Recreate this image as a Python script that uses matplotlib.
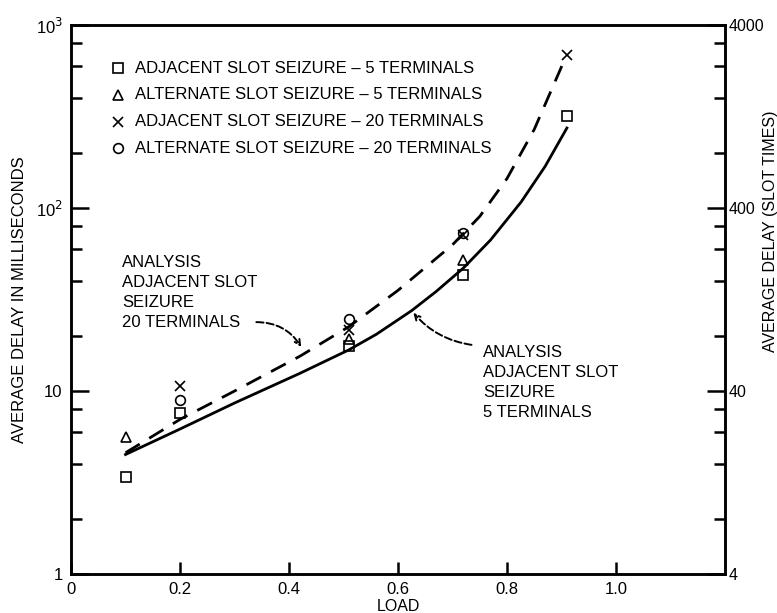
import matplotlib.pyplot as plt
from matplotlib.ticker import FixedLocator, NullFormatter
import numpy as np

plt.rcParams['font.family'] = ['Liberation Sans', 'DejaVu Sans']

# simulation points (load, delay in ms)
sq5_x = [0.1, 0.2, 0.51, 0.72, 0.91]
sq5_y = [3.4, 7.6, 17.6, 43, 320]
tri5_x = [0.1, 0.51, 0.72]
tri5_y = [5.6, 19.2, 52]
x20_x = [0.2, 0.51, 0.72, 0.91]
x20_y = [10.7, 21.5, 71, 690]
o20_x = [0.2, 0.51, 0.72]
o20_y = [8.9, 24.7, 73]

# analysis curves
an20_x = [0.1, 0.2, 0.3, 0.42, 0.51, 0.6, 0.7, 0.75, 0.8, 0.85, 0.905]
an20_y = [4.6, 7.0, 10.0, 15.5, 22.5, 35.5, 63, 90, 145, 269, 640]
an5_x = [0.1, 0.2, 0.3, 0.42, 0.51, 0.56, 0.625, 0.67, 0.72, 0.77, 0.826, 0.87, 0.91]
an5_y = [4.5, 6.2, 8.6, 12.5, 16.8, 20.4, 27.5, 35, 47, 67, 108, 169, 274]

legend_rows = [('s', 'ADJACENT SLOT SEIZURE \u2013 5 TERMINALS'),
               ('^', 'ALTERNATE SLOT SEIZURE \u2013 5 TERMINALS'),
               ('x', 'ADJACENT SLOT SEIZURE \u2013 20 TERMINALS'),
               ('o', 'ALTERNATE SLOT SEIZURE \u2013 20 TERMINALS')]

fig = plt.figure(figsize=(7.77, 6.13), dpi=100)
ax = fig.add_axes([0.0914, 0.0636, 0.8416, 0.8954])

ax.plot(an5_x, an5_y, '-', color='black', lw=2.0)
ax.plot(an20_x, an20_y, '--', color='black', lw=2.0, dashes=(6, 4))

mk = dict(color='black', mfc='none', linestyle='none', mew=1.2, ms=7)
ax.plot(sq5_x, sq5_y, marker='s', **mk)
ax.plot(tri5_x, tri5_y, marker='^', **mk)
ax.plot(x20_x, x20_y, marker='x', **mk)
ax.plot(o20_x, o20_y, marker='o', **mk)

ax.set_yscale('log')
ax.set_xlim(0, 1.2)
ax.set_ylim(1, 1000)

ax.set_xticks([0, 0.2, 0.4, 0.6, 0.8, 1.0])
ax.set_xticklabels(['0', '0.2', '0.4', '0.6', '0.8', '1.0'])
ax.yaxis.set_major_locator(FixedLocator([1, 10, 100, 1000]))
ax.set_yticklabels(['1', '10', '10$^2$', '10$^3$'])
minor = [m * 10 ** k for k in range(3) for m in (2, 4, 6, 8)]
ax.yaxis.set_minor_locator(FixedLocator(minor))
ax.yaxis.set_minor_formatter(NullFormatter())

ax.tick_params(axis='both', which='both', direction='in', labelsize=12, width=1.8)
ax.tick_params(axis='y', which='major', length=13, pad=6)
ax.tick_params(axis='y', which='minor', length=8)
ax.tick_params(axis='x', which='major', length=9, pad=6, top=False)
ax.tick_params(axis='x', which='minor', bottom=False)
for s in ax.spines.values():
    s.set_linewidth(1.8)

ax.set_xlabel('LOAD', fontsize=11.5, labelpad=1)
ax.set_ylabel('AVERAGE DELAY IN MILLISECONDS', fontsize=12, labelpad=6)

ax2 = ax.twinx()
ax2.set_yscale('log')
ax2.set_ylim(4, 4000)
ax2.yaxis.set_major_locator(FixedLocator([4, 40, 400, 4000]))
ax2.set_yticklabels(['4', '40', '400', '4000'])
ax2.yaxis.set_minor_locator(FixedLocator([4 * v for v in minor]))
ax2.yaxis.set_minor_formatter(NullFormatter())
ax2.tick_params(axis='y', which='both', direction='in', labelsize=11.5, width=1.8)
ax2.tick_params(axis='y', which='major', length=13, pad=2.5)
ax2.tick_params(axis='y', which='minor', length=8)
ax2.set_ylabel('AVERAGE DELAY (SLOT TIMES)', fontsize=11.5)
ax2.yaxis.set_label_coords(1.058, 0.624)
for s in ax2.spines.values():
    s.set_linewidth(1.8)

# legend as hand-placed rows
for i, (m, txt) in enumerate(legend_rows):
    y = 0.9215 - i * 0.0487
    ax.plot([0.072], [y], marker=m, transform=ax.transAxes, **mk)
    ax.text(0.098, y, txt, transform=ax.transAxes, fontsize=12, va='center')

ax.text(0.078, 0.513, 'ANALYSIS\nADJACENT SLOT\nSEIZURE\n20 TERMINALS',
        transform=ax.transAxes, fontsize=12, va='center', linespacing=1.4)
ax.annotate('', xy=(0.425, 16.9), xytext=(0.335, 23.8),
            arrowprops=dict(arrowstyle='->', ls='--', lw=1.4, color='black',
                            connectionstyle='arc3,rad=-0.3'))

ax.text(0.63, 0.349, 'ANALYSIS\nADJACENT SLOT\nSEIZURE\n5 TERMINALS',
        transform=ax.transAxes, fontsize=12, va='center', linespacing=1.4)
ax.annotate('', xy=(0.625, 27.5), xytext=(0.74, 17.8),
            arrowprops=dict(arrowstyle='->', ls='--', lw=1.4, color='black',
                            connectionstyle='arc3,rad=-0.2'))

fig.savefig('out.png', dpi=100)
